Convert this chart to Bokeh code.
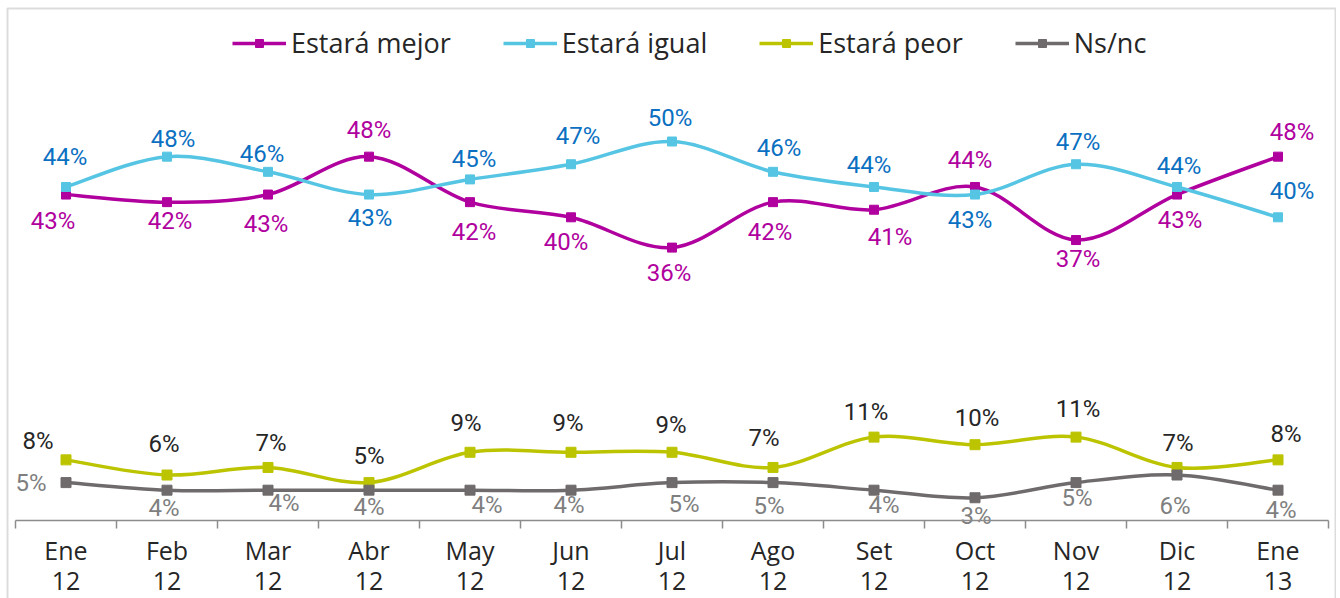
import numpy as np
from bokeh.plotting import figure
from bokeh.models import (ColumnDataSource, Range1d, FixedTicker, Legend, LegendItem,
                          BoxAnnotation)
from bokeh.core.properties import value
from bokeh.embed import file_html
from bokeh.resources import INLINE

# ---------------- data ----------------
month_abbr = ["Ene", "Feb", "Mar", "Abr", "May", "Jun", "Jul", "Ago", "Set", "Oct", "Nov", "Dic", "Ene"]
years = ["12", "12", "12", "12", "12", "12", "12", "12", "12", "12", "12", "12", "13"]
series_names = ["Estará mejor", "Estará igual", "Estará peor", "Ns/nc"]
mejor = [43, 42, 43, 48, 42, 40, 36, 42, 41, 44, 37, 43, 48]
igual = [44, 48, 46, 43, 45, 47, 50, 46, 44, 43, 47, 44, 40]
peor = [8, 6, 7, 5, 9, 9, 9, 7, 11, 10, 11, 7, 8]
nsnc = [5, 4, 4, 4, 4, 4, 5, 5, 4, 3, 5, 6, 4]

# ---------------- styles / layout ----------------
line_colors = ["#B0009E", "#56C5E3", "#BCC400", "#6F6B6C"]
label_colors = ["#B0009E", "#0B70C1", "#262626", "#7F7F7F"]
marker_sizes = [9, 9, 10, 10]
# label pixel offsets (screen px, +y = down)
label_dx = [
    [-13, 3, -2, 0, 4, -5, -3, -3, 16, -5, 2, 3, 14],
    [-1, 6, -6, 1, 4, 7, -2, 6, -5, -5, 2, 2, 14],
    [-28, -3, 3, 0, -4, -3, -1, -9, -8, 2, 2, 1, 8],
    [-35, -3, 16, 0, 17, -2, 12, -4, 10, 1, 1, -2, 3],
]
label_dy = [
    [26, 19, 29, -27, 30, 25, 25, 30, 27, -27, 19, 25, -25],
    [-30, -18, -18, 23, -20, -28, -24, -24, -22, 25, -22, -21, -26],
    [-19, -31, -24, -27, -29, -29, -27, -29, -25, -27, -28, -24, -26],
    [0, 18, 13, 17, 15, 15, 21, 23, 15, 18, 15, 31, 20],
]

W, H = 1336, 598
PLOT_L, PLOT_R = 15, 1328
AXIS_Y = 520
PX_Y = 7.58
n = len(month_abbr)
PX_X = (PLOT_R - PLOT_L) / n
x_start = -0.5 - PLOT_L / PX_X
x_end = n - 0.5 + (W - PLOT_R) / PX_X
y_end = AXIS_Y / PX_Y
y_start = -(H - AXIS_Y) / PX_Y

p = figure(width=W, height=H,
           x_range=Range1d(x_start, x_end), y_range=Range1d(y_start, y_end),
           output_backend="svg", toolbar_location=None, y_axis_location=None,
           min_border_left=0, min_border_right=0, min_border_top=0, min_border_bottom=0)
p.outline_line_color = None
p.grid.visible = False
p.background_fill_color = "white"
p.border_fill_color = "white"

# outer chart border (open at the bottom, as in the cropped original)
p.add_layout(BoxAnnotation(left=x_start + 7 / PX_X, right=x_start + 1335 / PX_X,
                           top=y_end - 8 / PX_Y, bottom=y_start - 5,
                           fill_alpha=0, line_color="#8c8c8c", line_width=2))

ax = p.xaxis[0]
ax.fixed_location = 0
ax.bounds = (-0.5, n - 0.5)
ax.ticker = FixedTicker(ticks=list(range(n)), minor_ticks=[i - 0.5 for i in range(n + 1)])
ax.major_label_overrides = {i: f"{m}\n{y}" for i, (m, y) in enumerate(zip(month_abbr, years))}
ax.major_tick_out = 0
ax.major_tick_in = 0
ax.minor_tick_out = 8
ax.minor_tick_in = 0
ax.minor_tick_line_color = "#8c8c8c"
ax.minor_tick_line_width = 1.5
ax.axis_line_color = "#8c8c8c"
ax.axis_line_width = 1.5
ax.major_label_text_font = "Open Sans"
ax.major_label_text_font_size = "25px"
ax.major_label_text_color = "#262626"
ax.major_label_text_line_height = 0.9
ax.major_label_standoff = 4


def smooth_segments(vals):
    y = np.asarray(vals, dtype=float)
    x = np.arange(len(y), dtype=float)
    m = len(y)
    idx = np.arange(m - 1)
    prev = np.clip(idx - 1, 0, m - 1)
    nxt2 = np.clip(idx + 2, 0, m - 1)
    return dict(
        x0=x[idx], y0=y[idx], x1=x[idx + 1], y1=y[idx + 1],
        cx0=x[idx] + (x[idx + 1] - x[prev]) / 6.0,
        cy0=y[idx] + (y[idx + 1] - y[prev]) / 6.0,
        cx1=x[idx + 1] - (x[nxt2] - x[idx]) / 6.0,
        cy1=y[idx + 1] - (y[nxt2] - y[idx]) / 6.0,
    )


items = []
for k, (name, vals) in enumerate(zip(series_names, [mejor, igual, peor, nsnc])):
    seg = ColumnDataSource(smooth_segments(vals))
    br = p.bezier(x0="x0", y0="y0", x1="x1", y1="y1", cx0="cx0", cy0="cy0",
                  cx1="cx1", cy1="cy1", source=seg,
                  line_color=line_colors[k], line_width=3.5)
    pts = ColumnDataSource(dict(
        x=list(range(len(vals))), y=vals,
        lab=[f"{v}%" for v in vals], dx=label_dx[k], dy=label_dy[k]))
    sr = p.scatter(x="x", y="y", source=pts, marker="square", size=marker_sizes[k],
                   fill_color=line_colors[k], line_color=line_colors[k])
    items.append(LegendItem(label=name, renderers=[br, sr]))
    p.text(x="x", y="y", text="lab", source=pts, x_offset="dx", y_offset="dy",
           text_align="center", text_baseline="middle",
           text_font=value("Roboto"), text_font_size=value("24px"),
           text_color=label_colors[k])

legend = Legend(items=items, orientation="horizontal", location=(232, H - 61),
                glyph_width=54, glyph_height=20, label_standoff=5, spacing=52,
                padding=0, margin=0, border_line_alpha=0, background_fill_alpha=0,
                label_text_font="Open Sans", label_text_font_size="27px",
                label_text_color="#262626")
p.add_layout(legend)

open("out.html", "w").write(file_html(p, INLINE))
